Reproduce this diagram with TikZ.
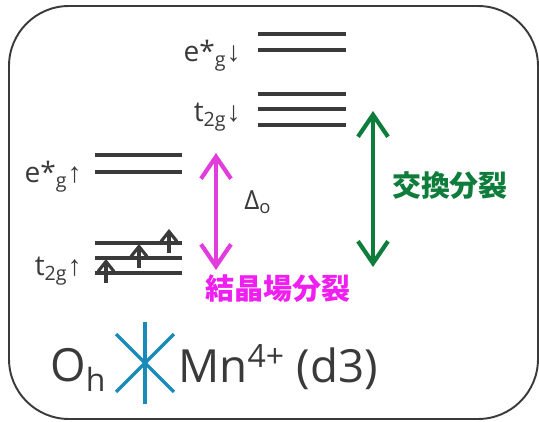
\documentclass[tikz,border=0pt]{standalone}
\usepackage{fontspec}
\setmainfont{Open Sans}
\newfontfamily\jpfont{Noto Sans CJK JP}
\newfontfamily\arrowfont{Liberation Sans}
\usetikzlibrary{arrows.meta}

\definecolor{ink}{HTML}{3A3A3A}
\definecolor{cfsarrow}{HTML}{E23CDC}
\definecolor{cfstext}{HTML}{F01EF0}
\definecolor{exsgreen}{HTML}{0E7C3A}
\definecolor{octablue}{HTML}{1A8AB8}

\begin{document}
\begin{tikzpicture}[
  x=0.02cm, y=-0.02cm,
  frame/.style = {draw=ink, line width=1.1pt, rounded corners=1.2cm},
  level/.style = {draw=ink, line width=1.9pt},
  spin/.style = {draw=ink, line width=1.8pt, -{Straight Barb[length=2mm, width=3.2mm]}},
  split/.style = {line width=2.4pt, {Straight Barb[length=4.4mm, width=6mm]}-{Straight Barb[length=4.4mm, width=6mm]}},
  lbl/.style = {font=\fontsize{16}{19}\selectfont, text=ink, inner sep=0pt},
  big/.style = {font=\fontsize{26}{30}\selectfont, text=ink, inner sep=0pt},
  jp/.style = {font=\fontsize{16.5}{20}\selectfont\jpfont\bfseries, inner sep=0pt},
  octa/.style = {draw=octablue, line width=1.9pt}
]
\useasboundingbox (0,0) rectangle (539,422);

% Frame
\draw[frame] (9,6) rectangle (538,419);

% Levels
\foreach \y in {34,50} \draw[level] (258,\y) -- (346,\y);
\foreach \y in {94,109,125} \draw[level] (258,\y) -- (346,\y);
\foreach \y in {155,172} \draw[level] (95,\y) -- (182,\y);
\foreach \y in {243,258,273} \draw[level] (95,\y) -- (182,\y);

% Electrons
\foreach \x/\y in {106/273, 139/258, 169/243}
  \draw[spin] (\x,\y+10) -- (\x,\y-14);

% Labels
\node[lbl, anchor=base east] (egdn) at (241,62) {e*\textsubscript{g}{\arrowfont ↓}};
\node[lbl, anchor=base east] (tgdn) at (241,122) {t\textsubscript{2g}{\arrowfont ↓}};
\node[lbl, anchor=base east] (egup) at (82,183) {e*\textsubscript{g}{\arrowfont ↑}};
\node[lbl, anchor=base east] (tgup) at (82,276) {t\textsubscript{2g}{\arrowfont ↑}};

% Splittings
\coordinate (cfstop) at (216,153);
\coordinate (cfsbot) at (216,270);
\draw[split, draw=cfsarrow] (cfstop) -- (cfsbot);
\node[lbl, font=\fontsize{15}{18}\selectfont, anchor=base west] (delta) at (244,210) {Δ\textsubscript{o}};
\node[jp, text=cfstext] (cfs) at (278,289) {結晶場分裂};

\coordinate (exstop) at (373,111);
\coordinate (exsbot) at (373,267);
\draw[split, draw=exsgreen] (exstop) -- (exsbot);
\node[jp, text=exsgreen] (exs) at (450,186) {交換分裂};

% Ion
\node[big, anchor=base west] (oh) at (50,382) {O\textsubscript{h}};
\coordinate (octa) at (145,363);
\foreach \a in {90,45,135}
  \draw[octa] (octa) ++(\a:41) -- ++(\a+180:82);
\node[big, anchor=base west] (mn) at (178,383) {Mn\textsuperscript{4+} (d3)};

\end{tikzpicture}
\end{document}
